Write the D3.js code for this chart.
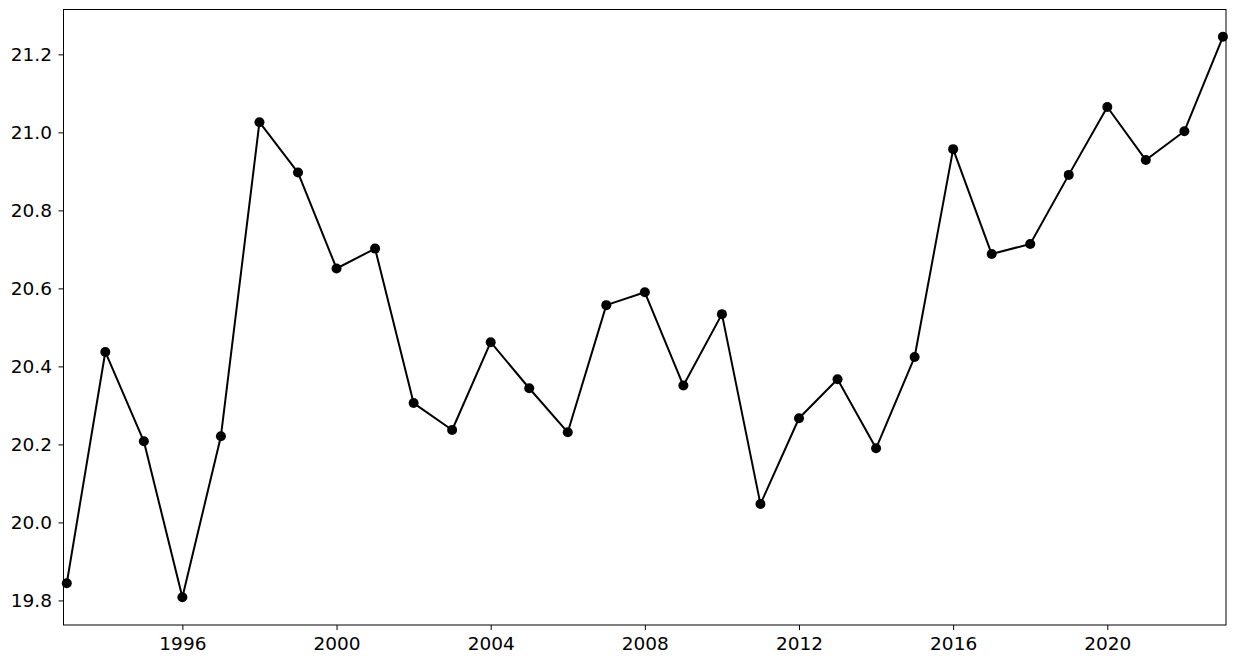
<!DOCTYPE html>
<html>
<head>
<meta charset="utf-8">
<script src="https://cdn.jsdelivr.net/npm/d3@7"></script>
<style>
  html, body { margin: 0; padding: 0; background: #fff; }
  svg { display: block; }
  .tick text { font-family: "DejaVu Sans", sans-serif; font-size: 18.5px; fill: #000; }
</style>
</head>
<body>
<svg id="chart" width="1235" height="664"></svg>
<script>
const years = [1993,1994,1995,1996,1997,1998,1999,2000,2001,2002,2003,2004,2005,2006,2007,2008,2009,2010,2011,2012,2013,2014,2015,2016,2017,2018,2019,2020,2021,2022,2023];
const values = [19.844,20.437,20.208,19.808,20.221,21.026,20.897,20.651,20.702,20.306,20.237,20.462,20.344,20.231,20.557,20.590,20.351,20.534,20.047,20.267,20.367,20.190,20.424,20.957,20.688,20.714,20.891,21.065,20.929,21.003,21.245];
const xTicks = [1996,2000,2004,2008,2012,2016,2020];
const yTicks = [19.8,20.0,20.2,20.4,20.6,20.8,21.0,21.2];

const margin = {left: 63.5, right: 1226, top: 9.5, bottom: 625};
const svg = d3.select("#chart");

const x = d3.scaleLinear().domain([1992.915, 2023.08]).range([margin.left, margin.right]);
const y = d3.scaleLinear().domain([19.737, 21.315]).range([margin.bottom, margin.top]);

const data = years.map((yr, i) => ({year: yr, value: values[i]}));

const line = d3.line().x(d => x(d.year)).y(d => y(d.value));
svg.append("path").datum(data)
  .attr("d", line)
  .attr("fill", "none")
  .attr("stroke", "#000")
  .attr("stroke-width", 2)
  .attr("stroke-linejoin", "round");

svg.append("g").selectAll("circle").data(data).join("circle")
  .attr("cx", d => x(d.year)).attr("cy", d => y(d.value))
  .attr("r", 5).attr("fill", "#000");

// Axes
const xAxis = d3.axisBottom(x).tickValues(xTicks).tickFormat(d3.format("d")).tickSize(5).tickPadding(6.5);
const gx = svg.append("g").attr("transform", `translate(0,${margin.bottom})`).call(xAxis);
gx.select(".domain").remove();

const yAxis = d3.axisLeft(y).tickValues(yTicks).tickFormat(d3.format(".1f")).tickSize(5).tickPadding(6.5);
const gy = svg.append("g").attr("transform", `translate(${margin.left},0)`).call(yAxis);
gy.select(".domain").remove();

svg.selectAll(".tick line").attr("stroke", "#000").attr("stroke-width", 1);

// Frame
svg.append("rect")
  .attr("x", margin.left).attr("y", margin.top)
  .attr("width", margin.right - margin.left).attr("height", margin.bottom - margin.top)
  .attr("fill", "none").attr("stroke", "#000").attr("stroke-width", 1);
</script>
</body>
</html>
